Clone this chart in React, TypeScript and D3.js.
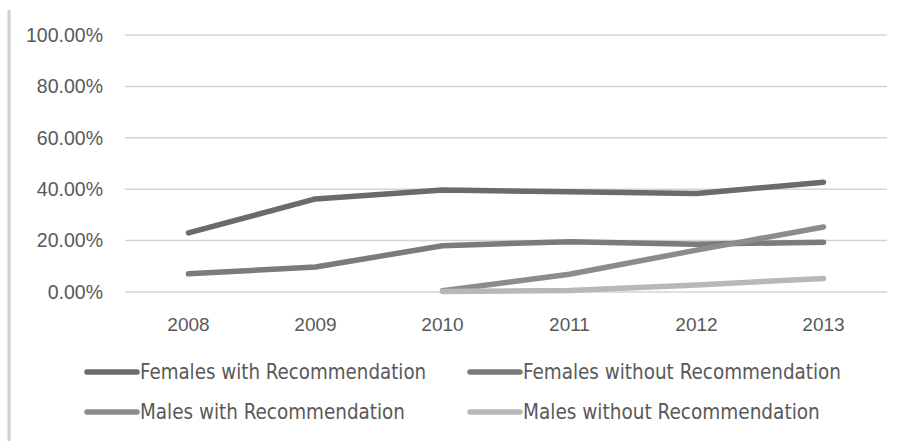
import React from "react";
import * as d3 from "d3";

const years = ["2008", "2009", "2010", "2011", "2012", "2013"];
const yTicks = [0, 20, 40, 60, 80, 100];
const femalesWith = [23.0, 36.2, 39.7, 39.0, 38.3, 42.7];
const femalesWithout = [7.1, 9.7, 18.0, 19.6, 18.6, 19.4];
const malesWith = [null, null, 0.5, 6.9, 16.3, 25.3];
const malesWithout = [null, null, 0.2, 0.6, 2.7, 5.3];
const seriesNames = [
  "Females with Recommendation",
  "Females without Recommendation",
  "Males with Recommendation",
  "Males without Recommendation",
];
const seriesValues = [femalesWith, femalesWithout, malesWith, malesWithout];
const colors = ["#6b6b6b", "#7b7b7b", "#8c8c8c", "#b8b8b8"];

export default function App() {
  const W = 902, H = 441;
  const x = d3.scaleBand().domain(years).range([125, 887]);
  const y = d3.scaleLinear().domain([0, 100]).range([292, 35]);
  const line = d3
    .line<number | null>()
    .defined((d) => d !== null)
    .x((_, i) => (x(years[i]) as number) + x.bandwidth() / 2)
    .y((d) => y(d as number));
  const font = "'Liberation Sans', Arial, sans-serif";
  const legendFont = "'Liberation Sans Narrow', 'DejaVu Sans Condensed', 'Liberation Sans', sans-serif";
  const legendPos = [
    [87, 372],
    [470, 372],
    [87, 412],
    [470, 412],
  ];
  return (
    <svg width={W} height={H} style={{ position: "absolute", left: 0, top: 0, background: "#fff" }}>
      <line x1={9} x2={9} y1={10} y2={441} stroke="#d0d0d0" strokeWidth={3} />
      {yTicks.map((t) => (
        <g key={t}>
          <line x1={125} x2={887} y1={y(t)} y2={y(t)} stroke="#d4d4d4" strokeWidth={1.5} />
          <text x={103} y={y(t)} dy="0.35em" textAnchor="end" fontSize={19.5} fill="#595959" fontFamily={font}>
            {t.toFixed(2)}%
          </text>
        </g>
      ))}
      {years.map((yr) => (
        <text key={yr} x={(x(yr) as number) + x.bandwidth() / 2} y={324} dy="0.35em" textAnchor="middle" fontSize={19} fill="#595959" fontFamily={font}>
          {yr}
        </text>
      ))}
      {seriesValues.map((vals, i) => (
        <path key={i} d={line(vals) || ""} fill="none" stroke={colors[i]} strokeWidth={5.5} strokeLinecap="round" strokeLinejoin="round" />
      ))}
      {seriesNames.map((name, i) => (
        <g key={name}>
          <line x1={legendPos[i][0]} x2={legendPos[i][0] + 50} y1={legendPos[i][1]} y2={legendPos[i][1]} stroke={colors[i]} strokeWidth={5.5} strokeLinecap="round" />
          <text x={legendPos[i][0] + 53} y={legendPos[i][1]} dy="0.35em" fontSize={21} fill="#595959" fontFamily={legendFont} textLength={name.length * 10.6} lengthAdjust="spacingAndGlyphs">
            {name}
          </text>
        </g>
      ))}
    </svg>
  );
}
